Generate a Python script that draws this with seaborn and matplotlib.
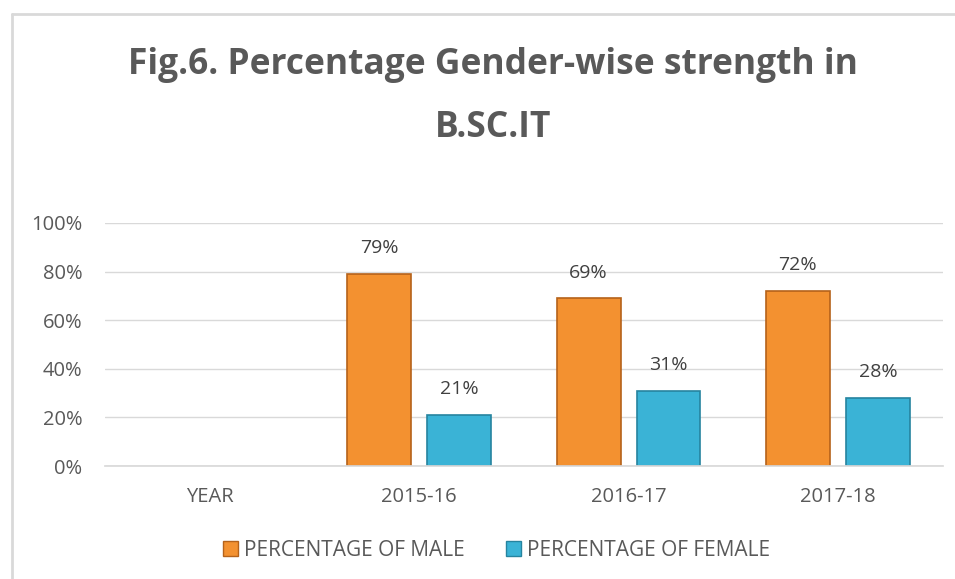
"""Gender-wise strength in B.SC.IT, grouped bar chart."""
import matplotlib.pyplot as plt
import pandas as pd
import seaborn as sns
from matplotlib.patches import Rectangle
from matplotlib.ticker import FuncFormatter

categories = ["YEAR", "2015-16", "2016-17", "2017-18"]
male_pct = [None, 79, 69, 72]
female_pct = [None, 21, 31, 28]
series_names = ["PERCENTAGE OF MALE", "PERCENTAGE OF FEMALE"]
yticks = [0, 20, 40, 60, 80, 100]

colors = ["#F39130", "#3AB3D6"]
edges = ["#B5621A", "#26849F"]
TEXT = "#595959"

df = pd.DataFrame({
    "year": categories * 2,
    "series": [series_names[0]] * 4 + [series_names[1]] * 4,
    "value": male_pct + female_pct,
})

sns.set_theme(style="white")
plt.rcParams["font.family"] = ["Open Sans", "DejaVu Sans"]

fig = plt.figure(figsize=(9.55, 5.79), dpi=100)
ax = fig.add_axes([0.110, 0.195, 0.877, 0.420])

sns.barplot(data=df, x="year", y="value", hue="series", order=categories,
            hue_order=series_names, palette=colors, width=0.764, gap=0.2,
            saturation=1, legend=False, ax=ax)

for container, ec in zip(ax.containers, edges):
    for patch in container:
        patch.set_edgecolor(ec)
        patch.set_linewidth(1.2)
    labels = [f"{v:.0f}%" if v == v else "" for v in container.datavalues]
    ax.bar_label(container, labels=labels, padding=12, fontsize=14,
                 color="#404040")

ax.set_ylim(0, 100)
ax.set_yticks(yticks)
ax.yaxis.set_major_formatter(FuncFormatter(lambda v, _: f"{v:.0f}%"))
ax.grid(axis="y", color="#D9D9D9", linewidth=1)
ax.set_axisbelow(True)
for side in ["top", "right", "left"]:
    ax.spines[side].set_visible(False)
ax.spines["bottom"].set_color("#D9D9D9")
ax.tick_params(axis="y", length=0, labelsize=14.5, labelcolor=TEXT, pad=16.5)
ax.tick_params(axis="x", length=0, labelsize=14.5, labelcolor=TEXT, pad=15)
ax.set_xlabel("")
ax.set_ylabel("")

fig.text(0.516, 0.833, "Fig.6. Percentage Gender-wise strength in\nB.SC.IT",
         ha="center", va="center", fontsize=25.5, fontweight="bold",
         color=TEXT, linespacing=2.0)

handles = [Rectangle((0, 0), 1, 1, facecolor=c, edgecolor=e)
           for c, e in zip(colors, edges)]
fig.legend(handles, series_names, loc="center", bbox_to_anchor=(0.52, 0.05),
           ncol=2, frameon=False, fontsize=15, labelcolor=TEXT,
           handlelength=0.7, handleheight=0.7, handletextpad=0.3,
           columnspacing=2.0)

# chart border (left and top only visible in the crop)
fig.add_artist(plt.Line2D([0.0126, 0.0126], [0, 0.976], color="#D9D9D9",
                          linewidth=2, transform=fig.transFigure))
fig.add_artist(plt.Line2D([0.0126, 1], [0.976, 0.976], color="#D9D9D9",
                          linewidth=2, transform=fig.transFigure))

fig.savefig("out.png", dpi=100)
